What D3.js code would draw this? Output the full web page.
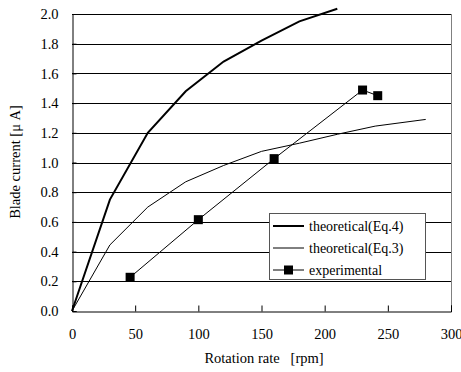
<!DOCTYPE html>
<html><head><meta charset="utf-8">
<script src="https://cdn.jsdelivr.net/npm/d3@7"></script>
<style>body{margin:0;background:#fff}svg{display:block}svg text{font-family:'Times New Roman','Liberation Serif',serif}</style>
</head><body>
<svg id="c" width="461" height="372" font-family="'Times New Roman', 'Liberation Serif', serif"></svg>
<script>
const eq4X = [0, 30, 60, 90, 120, 150, 180, 210];
const eq4Y = [0, 0.75, 1.20, 1.48, 1.68, 1.82, 1.95, 2.035];
const eq3X = [0, 30, 60, 90, 120, 150, 180, 210, 240, 280];
const eq3Y = [0, 0.445, 0.70, 0.87, 0.98, 1.075, 1.13, 1.19, 1.245, 1.29];
const expX = [46, 100, 160, 230, 242];
const expY = [0.227, 0.615, 1.026, 1.488, 1.45];
const xTicks = [0, 50, 100, 150, 200, 250, 300];
const yTicks = [0, 0.2, 0.4, 0.6, 0.8, 1.0, 1.2, 1.4, 1.6, 1.8, 2.0];
const seriesNames = ["theoretical(Eq.4)", "theoretical(Eq.3)", "experimental"];

const FONT = "'Times New Roman', 'Liberation Serif', serif";
const svg = d3.select("#c");
const L = 72, R = 451, T = 14, B = 311;
const x = d3.scaleLinear().domain([0, 300]).range([L, R]);
const y = d3.scaleLinear().domain([0, 2]).range([B, T]);

// gridlines
svg.append("g").selectAll("line").data(yTicks.filter(d => d > 0)).join("line")
  .attr("x1", L).attr("x2", R).attr("y1", d => Math.round(y(d)) + 0.5).attr("y2", d => Math.round(y(d)) + 0.5)
  .attr("stroke", "#000").attr("stroke-width", 1);
// right border
svg.append("line").attr("x1", R + 0.5).attr("x2", R + 0.5).attr("y1", T).attr("y2", B)
  .attr("stroke", "#808080");

// axes
const xAxis = svg.append("g").attr("transform", `translate(0,${B + 0.5})`)
  .call(d3.axisBottom(x).tickValues(xTicks).tickSize(-6).tickPadding(17).tickFormat(d3.format("d")));
const yAxis = svg.append("g").attr("transform", `translate(${L + 0.5},0)`)
  .call(d3.axisLeft(y).tickValues(yTicks).tickSize(-4).tickPadding(14).tickFormat(d3.format(".1f")));
[xAxis, yAxis].forEach(g => {
  g.attr("font-family", FONT).attr("font-size", 14.5);
  g.select(".domain").attr("stroke", "#000");
  g.selectAll(".tick line").attr("stroke", "#000");
  g.selectAll("text").attr("fill", "#000").attr("font-family", FONT).attr("font-size", 14.5);
});

const line = d3.line().x(d => x(d[0])).y(d => y(d[1]));
svg.append("path").datum(eq4X.map((v, i) => [v, eq4Y[i]])).attr("d", line)
  .attr("fill", "none").attr("stroke", "#000").attr("stroke-width", 2);
svg.append("path").datum(eq3X.map((v, i) => [v, eq3Y[i]])).attr("d", line)
  .attr("fill", "none").attr("stroke", "#000").attr("stroke-width", 1);
const expData = expX.map((v, i) => [v, expY[i]]);
svg.append("path").datum(expData).attr("d", line)
  .attr("fill", "none").attr("stroke", "#000").attr("stroke-width", 1);
svg.append("g").selectAll("rect").data(expData).join("rect")
  .attr("x", d => x(d[0]) - 4.5).attr("y", d => y(d[1]) - 4.5)
  .attr("width", 9).attr("height", 9).attr("fill", "#000");

// axis titles
svg.append("text").attr("x", 264).attr("y", 363).attr("text-anchor", "middle")
  .attr("font-family", FONT).attr("font-size", 14.5).style("white-space", "pre").text("Rotation rate   [rpm]");
svg.append("text").attr("transform", "translate(20,162) rotate(-90)").attr("text-anchor", "middle")
  .attr("font-family", FONT).attr("font-size", 14.5).text("Blade current [\u03bc A]");

// legend
const lg = svg.append("g");
lg.append("rect").attr("x", 269.5).attr("y", 213.5).attr("width", 156).attr("height", 66)
  .attr("fill", "#fff").attr("stroke", "#555").attr("stroke-width", 1);
const ly = [226, 248, 270];
seriesNames.forEach((n, i) => {
  lg.append("line").attr("x1", 273).attr("x2", 304).attr("y1", ly[i]).attr("y2", ly[i])
    .attr("stroke", "#000").attr("stroke-width", i === 0 ? 2 : 1);
  if (i === 2) lg.append("rect").attr("x", 284).attr("y", ly[i] - 4.5).attr("width", 9).attr("height", 9).attr("fill", "#000");
  lg.append("text").attr("x", 309).attr("y", ly[i] + 4.5).attr("font-family", FONT).attr("font-size", 14).text(n);
});
</script>
</body></html>
